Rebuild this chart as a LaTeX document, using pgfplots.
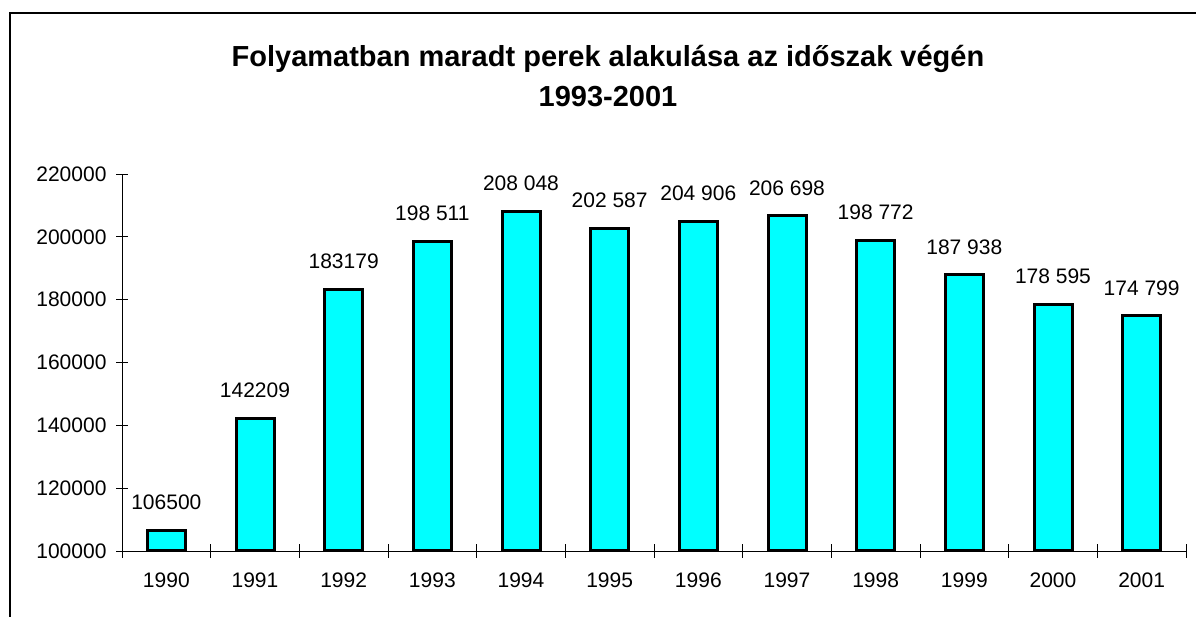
\documentclass[border=0pt]{standalone}
\usepackage{pgfplots}
\pgfplotsset{compat=1.18}
\usepackage{pgfplotstable}
\usepackage{fontspec}
\setmainfont{Liberation Sans}
\definecolor{barcyan}{RGB}{0,255,255}
\pgfplotstableread[col sep=comma]{
x,y,label
0,106500,106500
1,142209,142209
2,183179,183179
3,198511,198 511
4,208048,208 048
5,202587,202 587
6,204906,204 906
7,206698,206 698
8,198772,198 772
9,187938,187 938
10,178595,178 595
11,174799,174 799
}\data
\begin{document}
\begin{tikzpicture}
\useasboundingbox (0,0) rectangle (1196pt,617pt);
\draw[line width=1.5pt] (10pt,0pt) -- (10pt,604pt) -- (1196pt,604pt);
\node[font=\fontsize{29}{31}\selectfont\bfseries, anchor=base, inner sep=0pt] at (608pt,550pt) {Folyamatban maradt perek alakulása az időszak végén};
\node[font=\fontsize{29}{31}\selectfont\bfseries, anchor=base, inner sep=0pt] at (608pt,510pt) {1993-2001};
\begin{axis}[
  at={(122pt,66pt)}, anchor=south west,
  scale only axis, width=1064pt, height=377pt,
  xmin=-0.5, xmax=11.5, ymin=100000, ymax=220000,
  axis x line=bottom, axis y line=left,
  axis line style={-, line width=0.8pt, black},
  ybar, bar width=38pt,
  xtick={0,1,2,3,4,5,6,7,8,9,10,11},
  xticklabels={1990,1991,1992,1993,1994,1995,1996,1997,1998,1999,2000,2001},
  major x tick style={draw=none},
  minor xtick={-0.5,0.5,1.5,2.5,3.5,4.5,5.5,6.5,7.5,8.5,9.5,10.5,11.5},
  minor x tick style={black, line width=0.8pt},
  ytick={100000,120000,140000,160000,180000,200000,220000},
  yticklabels={100000,120000,140000,160000,180000,200000,220000},
  y tick style={black, line width=0.8pt},
  tick align=center, major tick length=12pt, minor tick length=14pt,
  tick label style={font=\fontsize{21}{23}\selectfont},
  xticklabel style={yshift=-12pt},
  yticklabel style={xshift=-6pt},
  scaled y ticks=false,
  enlarge y limits=false,
]
\addplot[fill=barcyan, draw=black, line width=3pt,
  nodes near coords, point meta=explicit symbolic,
  every node near coord/.append style={font=\fontsize{21}{23}\selectfont, inner sep=0pt, anchor=south, yshift=19pt}]
  table[x=x, y=y, meta=label, col sep=comma] {\data};
\end{axis}
\end{tikzpicture}
\end{document}
